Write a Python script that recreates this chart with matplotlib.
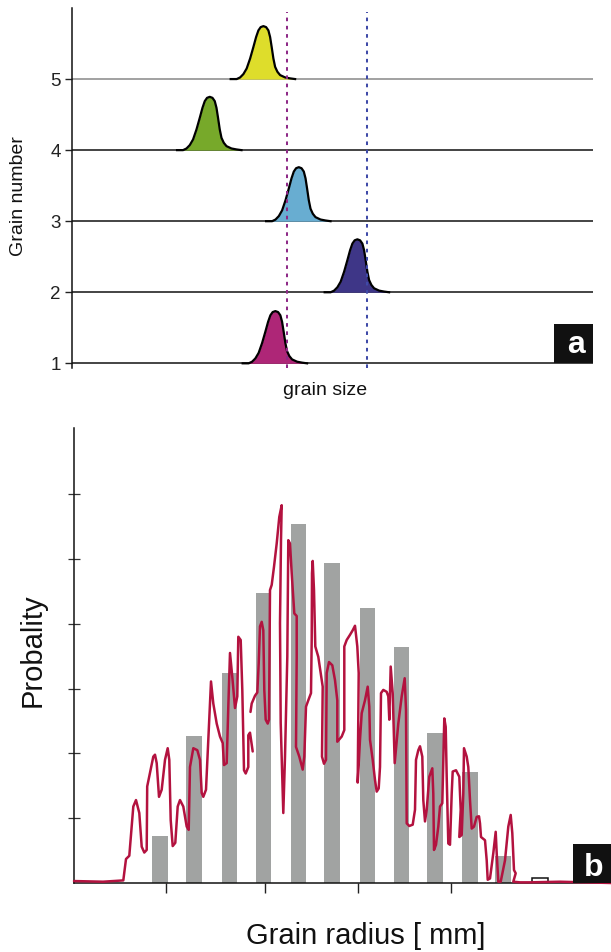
import numpy as np
import matplotlib.pyplot as plt
from matplotlib.patches import Rectangle

plt.rcParams['font.family'] = ['Liberation Sans', 'DejaVu Sans']

W, H = 611, 952

# ---- panel a : single grain size distributions ----
grain_numbers = [1, 2, 3, 4, 5]
grain_centers = [39.0, 54.75, 43.5, 26.4, 36.7]
grain_heights = [0.735, 0.745, 0.76, 0.75, 0.745]
grain_colors = ['#ae2677', '#3e3687', '#68add1', '#77a92a', '#dedd2b']
# profile of one peak (offset, relative height)
peak_dx = [-6.28, -5.13, -4.47, -3.84, -3.21, -2.55, -1.92, -1.40, -0.96, -0.52, 0.0,
           0.52, 0.96, 1.29, 1.59, 1.92, 2.25, 2.69, 3.21, 4.17, 5.13, 6.09]
peak_h = [0.0, 0.0, 0.031, 0.094, 0.20, 0.388, 0.606, 0.794, 0.919, 0.981, 1.0,
          0.981, 0.919, 0.794, 0.606, 0.388, 0.231, 0.138, 0.075, 0.031, 0.013, 0.0]
mean_lines = [41.2, 56.6]
mean_colors = ['#8e2a87', '#3f4aa8']

# ---- panel b : histogram + probability curve ----
bar_x = [8.6, 12.0, 15.55, 18.95, 22.45, 25.8, 29.35, 32.75, 36.1, 39.6, 42.9, 46.6]
bar_h = [0.725, 2.27, 3.24, 4.48, 5.54, 4.94, 4.24, 3.64, 2.31, 1.71, 0.42, 0.08]
xtick_pos = [9.24, 19.06, 28.38, 37.73]
ytick_pos = [1, 2, 3, 4, 5, 6]

curve_pts = [
    (0.0, 0.03), (2.9, 0.02), (4.93, 0.04), (5.2, 0.37), (5.53, 0.42), (5.93, 1.18),
    (6.2, 1.28), (6.53, 1.08), (6.77, 0.56), (7.03, 0.47), (7.27, 0.51), (7.32, 1.49),
    (7.6, 1.70), (7.93, 1.95), (8.1, 1.98), (8.27, 1.85), (8.5, 1.33), (8.77, 1.44),
    (9.1, 1.90), (9.37, 2.08), (9.53, 1.90), (9.67, 0.97), (9.87, 0.57), (10.13, 0.62),
    (10.37, 1.18), (10.6, 1.28), (10.93, 1.18), (11.27, 0.87), (11.47, 0.82), (11.6, 1.79),
    (11.93, 2.08), (12.33, 2.05), (12.6, 1.90), (12.77, 1.39), (12.93, 1.33), (13.2, 1.44),
    (13.43, 2.21), (13.7, 3.11), (13.93, 2.77), (14.27, 2.46), (14.6, 2.26), (14.87, 2.16),
    (15.0, 1.82), (15.27, 1.85), (15.43, 2.72), (15.6, 3.55), (15.83, 3.18), (16.1, 2.70),
    (16.33, 2.88), (16.43, 3.80), (16.67, 3.75), (16.83, 2.98), (17.0, 1.74), (17.17, 1.69),
    (17.43, 1.79), (17.43, 2.28), (17.6, 2.32), (17.87, 2.03), (np.nan, np.nan),
    (17.65, 2.64), (17.77, 2.77), (18.1, 2.89), (18.33, 2.94), (18.47, 3.39), (18.6, 3.96),
    (18.77, 4.03), (18.93, 3.90), (19.03, 2.98), (19.17, 2.52), (19.37, 2.46), (19.5, 2.52),
    (19.6, 4.52), (19.77, 4.60), (20.0, 4.88), (20.27, 5.24), (20.53, 5.65), (20.77, 5.83),
    (20.7, 5.29), (20.6, 4.01), (20.67, 2.47), (20.93, 1.08), (21.1, 1.95), (21.33, 3.49),
    (21.4, 4.78), (21.43, 5.29), (21.6, 5.24), (21.77, 4.78), (22.03, 4.16), (22.27, 4.12),
    (22.27, 3.49), (22.2, 2.10), (22.53, 1.95), (22.87, 1.75), (23.03, 1.95), (23.2, 2.72),
    (23.43, 2.82), (23.7, 2.93), (23.77, 3.75), (23.8, 4.78), (23.87, 4.97), (24.0, 4.52),
    (24.13, 3.65), (24.43, 3.49), (24.67, 3.24), (24.87, 3.03), (24.8, 1.95), (25.0, 1.84),
    (25.2, 1.90), (25.27, 3.24), (25.5, 3.41), (25.83, 3.36), (26.1, 3.13), (26.33, 2.82),
    (26.33, 2.18), (26.77, 2.26), (27.03, 2.36), (27.03, 3.65), (27.27, 3.75), (27.6, 3.83),
    (27.87, 3.90), (28.1, 3.97), (28.33, 3.65), (28.47, 3.24), (28.37, 1.55), (28.6, 2.21),
    (28.77, 2.62), (29.1, 2.82), (29.37, 3.03), (29.53, 2.72), (29.6, 2.21), (29.87, 1.90),
    (30.1, 1.59), (30.27, 1.41), (30.47, 1.46), (30.6, 1.79), (30.7, 2.93), (30.93, 2.98),
    (31.27, 2.95), (31.43, 2.88), (31.53, 2.52), (31.67, 3.34), (31.87, 2.93), (32.07, 1.85),
    (32.43, 2.46), (32.77, 2.88), (33.07, 3.16), (33.2, 2.67), (33.27, 0.92), (33.53, 0.88),
    (33.87, 0.90), (34.1, 1.13), (34.2, 1.90), (34.43, 2.05), (34.6, 2.11), (34.83, 1.95),
    (34.93, 1.28), (35.1, 0.95), (35.27, 1.13), (35.53, 1.64), (35.83, 1.77), (35.93, 1.38),
    (36.0, 0.51), (36.2, 0.59), (36.43, 0.87), (36.6, 1.18), (36.83, 1.23), (36.93, 1.90),
    (37.03, 2.54), (37.17, 2.41), (37.27, 1.64), (37.43, 0.61), (37.6, 0.59), (37.77, 1.38),
    (37.87, 1.72), (38.2, 1.74), (38.53, 1.64), (38.67, 1.13), (38.53, 0.71), (38.77, 0.74),
    (38.93, 1.38), (39.0, 2.08), (39.27, 1.95), (39.43, 1.79), (39.6, 1.28), (39.77, 0.84),
    (40.0, 0.87), (40.27, 1.02), (40.5, 1.03), (40.6, 0.92), (40.7, 0.71), (41.1, 0.66),
    (41.27, 0.35), (41.37, 0.05), (41.6, 0.07), (41.93, 0.46), (42.17, 0.79), (42.27, 0.46),
    (42.43, 0.02), (42.67, 0.02), (43.1, 0.35), (43.43, 0.87), (43.67, 1.05), (43.83, 0.77),
    (44.0, 0.20), (44.17, 0.15), (43.93, 0.02), (44.6, 0.01), (45.6, 0.01), (48.6, 0.02),
    (53.7, 0.0),
]
curve_x = np.array([p[0] for p in curve_pts])
curve_y = np.array([p[1] for p in curve_pts])


def fx(px):
    return px / W


def fy(py):
    return 1 - py / H


fig = plt.figure(figsize=(W / 100, H / 100), dpi=100)

# ================= panel a =================
ax_a = fig.add_axes([fx(72.3), fy(368.3), (593 - 72.3) / W, (368.3 - 8) / H])
ax_a.set_xlim(0, 100)
ax_a.set_ylim(0.93, 6.0)
for s in ['top', 'right', 'bottom']:
    ax_a.spines[s].set_visible(False)
ax_a.spines['left'].set_linewidth(1.1)
ax_a.spines['left'].set_color('#111111')
ax_a.set_xticks([])
ax_a.set_yticks(grain_numbers)
ax_a.set_yticklabels([str(g) for g in grain_numbers])
ax_a.tick_params(axis='y', direction='out', length=4.8, width=1.0, pad=3.5,
                 labelsize=13.5, colors='#222222')

for g in grain_numbers:
    ax_a.axhline(g, color='#888888' if g == 5 else '#111111', lw=1.1, zorder=1)

profile_dx = np.array(peak_dx)
profile_h = np.array(peak_h)
for g, c, h, col in zip(grain_numbers, grain_centers, grain_heights, grain_colors):
    xs = c + profile_dx
    ys = g + h * profile_h
    ax_a.fill_between(xs, g, ys, color=col, lw=0, zorder=2)
    ax_a.plot(xs, ys, color='k', lw=1.6, solid_joinstyle='round', zorder=3)

for xm, col in zip(mean_lines, mean_colors):
    ax_a.vlines(xm, 0.93, 5.95, colors=col, lw=1.45, linestyles=(0, (1.8, 2.3)), zorder=4)

ax_a.add_patch(Rectangle((92.5, 1.0), 7.5, 0.553, facecolor='#111111', edgecolor='none',
                         clip_on=False, zorder=5))
ax_a.text(96.7, 1.145, 'a', color='white', fontsize=23, fontweight='bold',
          ha='center', va='baseline', zorder=6)

fig.text(fx(19), fy(196), 'Grain number', rotation=90, ha='center', va='center',
         fontsize=14, color='#111111')
fig.text(fx(325), fy(394.5), 'grain size', ha='center', va='baseline',
         fontsize=14, color='#111111')

# ================= panel b =================
ax_b = fig.add_axes([fx(74), fy(883), (W - 74) / W, (883 - 428) / H])
ax_b.set_xlim(0, 53.7)
ax_b.set_ylim(0, 455 / 64.8)
for s in ['top', 'right']:
    ax_b.spines[s].set_visible(False)
for s in ['left', 'bottom']:
    ax_b.spines[s].set_linewidth(1.1)
    ax_b.spines[s].set_color('#111111')

face = ['#a1a3a2'] * (len(bar_x) - 1) + ['white']
edge = ['none'] * (len(bar_x) - 1) + ['#111111']
ax_b.bar(bar_x, bar_h, width=1.55, color=face, edgecolor=edge, linewidth=1.1, zorder=2)

ax_b.plot(curve_x, curve_y, color='#b3123f', lw=1.8, solid_joinstyle='round',
          solid_capstyle='round', zorder=3, clip_on=False)

ax_b.set_yticks(ytick_pos)
ax_b.set_yticklabels([])
ax_b.tick_params(axis='y', direction='inout', length=9, width=0.9, colors='#333333')
ax_b.set_xticks(xtick_pos)
ax_b.set_xticklabels([])
ax_b.tick_params(axis='x', direction='out', length=7, width=1.0, colors='#222222')
ax_b.xaxis.get_major_ticks()[0].tick1line.set_color('#888888')

ax_b.add_patch(Rectangle((49.9, 0.0), 3.8, 0.60, facecolor='#111111', edgecolor='none',
                         clip_on=False, zorder=5))
ax_b.text(51.99, 0.108, 'b', color='white', fontsize=23, fontweight='bold',
          ha='center', va='baseline', zorder=6)

fig.text(fx(32.5), fy(650), 'Probality', rotation=90, ha='center', va='center',
         fontsize=21, color='#111111')
fig.text(fx(366), fy(936), 'Grain radius [ mm]', ha='center', va='center',
         fontsize=21, color='#111111')

fig.savefig('out.png', dpi=100)
